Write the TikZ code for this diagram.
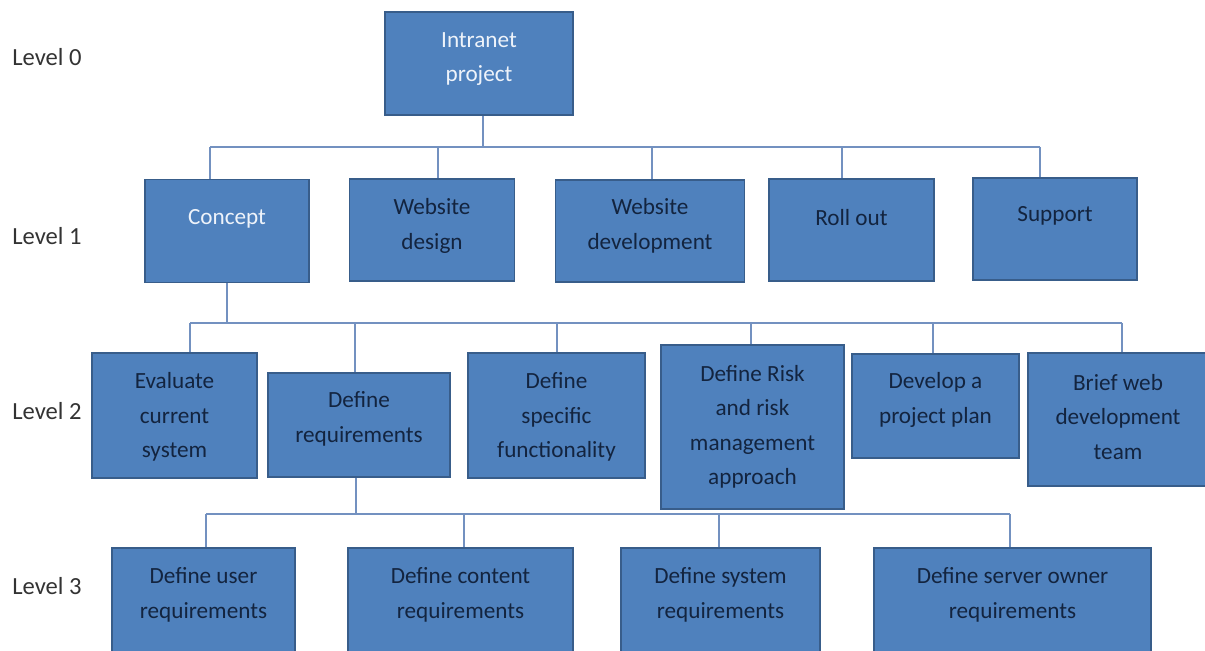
\documentclass[tikz,border=0pt]{standalone}
\usepackage{fontspec}
\setmainfont{Carlito}
\definecolor{wbsfill}{HTML}{4F81BD}
\definecolor{wbsline}{HTML}{385D8A}
\definecolor{linkcol}{HTML}{7391C0}
\definecolor{darktxt}{HTML}{13243F}
\definecolor{lighttxt}{HTML}{EEF3FA}
\tikzset{
  wbsbox/.style={rectangle, draw=wbsline, fill=wbsfill, line width=1.1pt, inner sep=0pt},
  boxtext/.style={align=center, inner sep=0pt, text=darktxt},
  toptext/.style={boxtext, text=lighttxt},
  lvl/.style={anchor=west, inner sep=0pt, text=black!80, font=\fontsize{14}{17}\selectfont},
  link/.style={draw=linkcol, line width=0.8pt}
}
\begin{document}
\begin{tikzpicture}[x=0.2mm, y=-0.2mm, font=\fontsize{13.2}{19.6}\selectfont]
\useasboundingbox (0,0) rectangle (1205,651);

% Levels
\foreach \i/\y in {0/57, 1/236, 2/411, 3/586}
	\node[lvl] (lvl\i) at (12,\y) {Level \i};

% Level 0
\node[wbsbox, minimum width=188*0.2mm, minimum height=103*0.2mm] (root) at (479,63.5) {};
\node[toptext] (root-t) at (479,59) {Intranet\\project};

% Level 1
\node[wbsbox, minimum width=164*0.2mm, minimum height=103*0.2mm] (c1) at (227,231) {};
\node[toptext] (c1-t) at (227,219) {Concept};
\foreach \n/\x/\y/\w/\h/\ty/\t in {c2/432/230/165/102/226/{Website\\design},
		c3/650/231/189/102/226/{Website\\development},
		c4/851.5/230/165/102/218/{Roll out},
		c5/1055/229/164/102/216/{Support}}
{
	\node[wbsbox, minimum width=\w*0.2mm, minimum height=\h*0.2mm] (\n) at (\x,\y) {};
	\node[boxtext] (\n-t) at (\x,\ty) {\t};
}

% Level 2
\foreach \n/\x/\y/\w/\h/\ty/\t in {d1/174.5/415.5/165/125/417/{Evaluate\\current\\system},
		d2/359/425/182/104/419/{Define\\requirements},
		d3/556.5/415.5/177/125/417/{Define\\specific\\functionality},
		d4/752.5/427/183/164/427/{Define Risk\\and risk\\management\\approach},
		d5/935.5/406/167/104/400/{Develop a\\project plan},
		d6/1118/419.5/180/133/417/{Brief web\\development\\team}}
{
	\node[wbsbox, minimum width=\w*0.2mm, minimum height=\h*0.2mm] (\n) at (\x,\y) {};
	\node[boxtext] (\n-t) at (\x,\ty) {\t};
}

% Level 3
\foreach \n/\x/\w/\t in {e1/203.5/183/{Define user\\requirements},
		e2/460.5/225/{Define content\\requirements},
		e3/720.5/199/{Define system\\requirements},
		e4/1012.5/277/{Define server owner\\requirements}}
{
	\node[wbsbox, minimum width=\w*0.2mm, minimum height=108*0.2mm] (\n) at (\x,602) {};
	\node[boxtext] (\n-t) at (\x,595) {\t};
}

% Connectors 0 -> 1
\coordinate (t-root) at (483,147);
\draw[link] (t-root |- root.south) -- (t-root);
\foreach \n/\x in {c1/210, c2/438, c3/652, c4/842, c5/1040}
{
	\coordinate (t-\n) at (\x,147);
	\draw[link] (t-\n) -- (t-\n |- \n.north);
}
\draw[link] (t-c1) -- (t-c5);

% Connectors 1 -> 2
\foreach \n/\x in {d1/190, d2/355, d3/557, d4/751, d5/933, d6/1122}
{
	\coordinate (t-\n) at (\x,323);
	\draw[link] (t-\n) -- (t-\n |- \n.north);
}
\draw[link] (t-d1) -- (t-d6);
\draw[link] (c1.south) -- (c1.south |- t-d1);

% Connectors 2 -> 3
\foreach \n/\x in {e1/206, e2/464, e3/719, e4/1010}
{
	\coordinate (t-\n) at (\x,514);
	\draw[link] (t-\n) -- (t-\n |- \n.north);
}
\draw[link] (t-e1) -- (t-e4);
\coordinate (t-d2s) at (356,514);
\draw[link] (t-d2s |- d2.south) -- (t-d2s);
\end{tikzpicture}
\end{document}
